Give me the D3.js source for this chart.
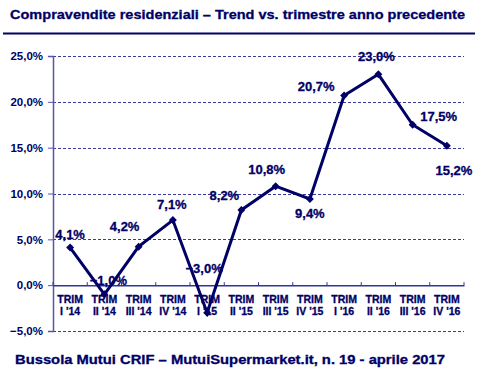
<!DOCTYPE html>
<html><head><meta charset="utf-8">
<script src="https://cdn.jsdelivr.net/npm/d3@7"></script>
<style>body{margin:0;background:#fff}svg{display:block}text{font-family:"Liberation Sans",Arial,sans-serif;font-weight:bold;fill:#000066}</style>
</head><body><svg id="c" width="500" height="379"></svg>
<script>
const categories = ["I '14","II '14","III '14","IV '14","I '15","II '15","III '15","IV '15","I '16","II '16","III '16","IV '16"];
const values = [4.1,-1.0,4.2,7.1,-3.0,8.2,10.8,9.4,20.7,23.0,17.5,15.2];
const yTicks = [-5,0,5,10,15,20,25];
const labelOffsets = [[0,-13],[4,-14],[-14,-20],[-1,-16],[-3,-44],[-17,-15],[-9,-17],[0,14],[-28,-9],[-2,-18],[26,-8],[7,25]];
const title = "Compravendite residenziali – Trend vs. trimestre anno precedente";
const footer = "Bussola Mutui CRIF – MutuiSupermarket.it, n. 19 - aprile 2017";

const svg = d3.select("#c");
const fmt = v => d3.format(".1f")(v).replace(".", ",") + "%";
const left = 53, right = 464;
const x = d3.scaleBand().domain(categories).range([left, right]);
const y = d3.scaleLinear().domain([-5, 25]).range([331, 56]);

svg.append("text").attr("x", 10).attr("y", 19).attr("font-size", 13).attr("textLength", 455).attr("lengthAdjust","spacingAndGlyphs")
  .attr("stroke", "#000066").attr("stroke-width", 0.3).text(title);
svg.append("line").attr("x1", 3).attr("x2", 475).attr("y1", 33.5).attr("y2", 33.5).attr("stroke", "#000066").attr("stroke-width", 2);

// grid
svg.append("g").selectAll("line").data(yTicks.filter(d => d !== 0)).join("line")
  .attr("x1", left).attr("x2", right).attr("y1", d => Math.round(y(d)) + 0.5).attr("y2", d => Math.round(y(d)) + 0.5)
  .attr("stroke", "#3a3a99").attr("stroke-dasharray", "3,2").attr("stroke-width", 1);

// y axis
const ya = svg.append("g").attr("transform", `translate(${left},0)`)
  .call(d3.axisLeft(y).tickValues(yTicks).tickFormat(fmt).tickSize(5).tickPadding(5));
ya.select(".domain").attr("stroke", "#5555aa").attr("stroke-width", 1.5);
ya.selectAll(".tick line").attr("stroke", "#5555aa");
ya.selectAll(".tick text").attr("font-size", 11.5).attr("font-family", "Liberation Sans, Arial").attr("font-weight", "bold").attr("fill", "#000066");

// x axis at zero
const xa = svg.append("g").attr("transform", `translate(0,${y(0)})`)
  .call(d3.axisBottom(x).tickValues([]).tickSize(0));
xa.select(".domain").attr("stroke", "#333399").attr("stroke-width", 1.5);
svg.append("g").selectAll("line").data(d3.range(categories.length + 1)).join("line")
  .attr("x1", i => left + i * x.step()).attr("x2", i => left + i * x.step())
  .attr("y1", y(0) - 3).attr("y2", y(0)).attr("stroke", "#333399");

const xl = svg.append("g").selectAll("text").data(categories).join("text")
  .attr("x", d => x(d) + x.bandwidth() / 2).attr("text-anchor", "middle").attr("font-size", 10.5)
  .attr("stroke", "#000066").attr("stroke-width", 0.3);
xl.append("tspan").attr("x", d => x(d) + x.bandwidth() / 2).attr("y", 303).text("TRIM");
xl.append("tspan").attr("x", d => x(d) + x.bandwidth() / 2).attr("y", 315).text(d => d);

// line
const cx = (d, i) => x(categories[i]) + x.bandwidth() / 2;
svg.append("path").datum(values)
  .attr("d", d3.line().x(cx).y(d => y(d)))
  .attr("fill", "none").attr("stroke", "#000066").attr("stroke-width", 3).attr("stroke-linejoin", "miter");
svg.append("g").selectAll("path").data(values).join("path")
  .attr("d", d3.symbol(d3.symbolDiamond2, 40)())
  .attr("transform", (d, i) => `translate(${cx(d, i)},${y(d)})`)
  .attr("fill", "#000066");

svg.append("g").selectAll("text").data(values).join("text")
  .attr("x", (d, i) => cx(d, i) + labelOffsets[i][0])
  .attr("y", (d, i) => y(d) + labelOffsets[i][1] + 4.5)
  .attr("text-anchor", "middle").attr("font-size", 13)
  .attr("stroke", "#000066").attr("stroke-width", 0.3).text(fmt);

svg.append("text").attr("x", 15).attr("y", 364).attr("font-size", 12.5).attr("textLength", 430).attr("lengthAdjust","spacingAndGlyphs")
  .attr("stroke", "#000066").attr("stroke-width", 0.3).text(footer);
</script></body></html>
